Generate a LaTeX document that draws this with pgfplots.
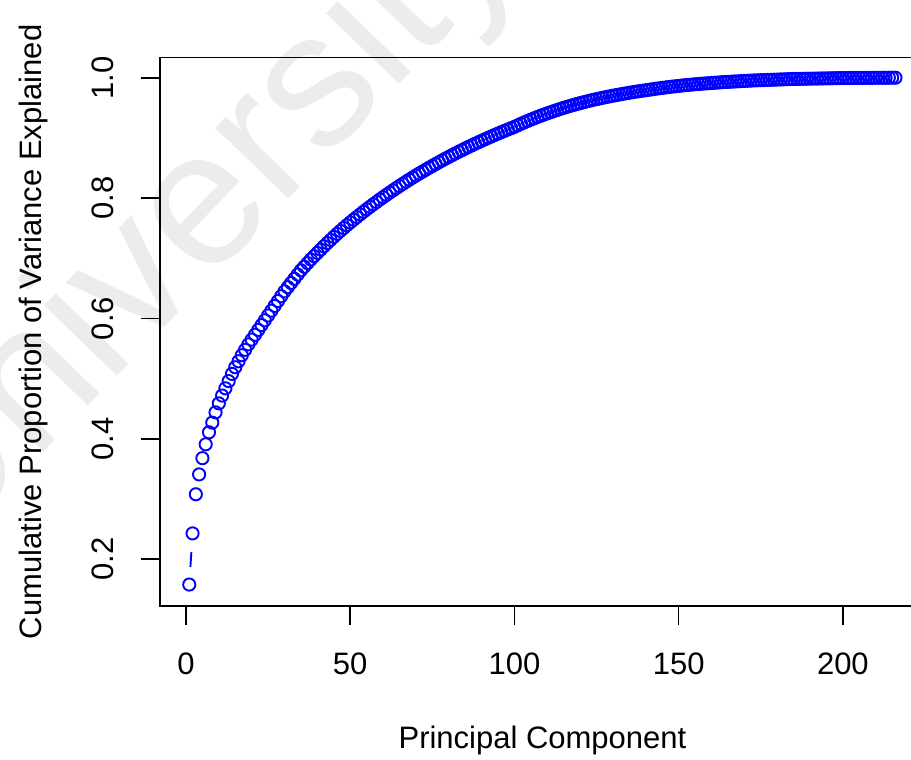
\documentclass[border=0pt]{standalone}
\usepackage{pgfplots}
\pgfplotsset{compat=1.18}
\usepackage{pgfplotstable}
\usepackage{fontspec}
\setmainfont{Liberation Sans}
\definecolor{rblue}{RGB}{0,0,255}
\definecolor{wm}{RGB}{236,236,236}
\pgfplotstableread{
x y
1 0.158
2 0.243
3 0.308
4 0.341
5 0.368
6 0.391
7 0.411
8 0.427
9 0.444
10 0.459
11 0.472
12 0.484
13 0.496
14 0.508
15 0.519
16 0.529
17 0.539
18 0.548
19 0.557
20 0.565
21 0.573
22 0.581
23 0.589
24 0.597
25 0.605
26 0.613
27 0.621
28 0.629
29 0.637
30 0.645
31 0.652
32 0.659
33 0.666
34 0.673
35 0.680
36 0.686
37 0.692
38 0.698
39 0.7035
40 0.709
41 0.7145
42 0.720
43 0.7253
44 0.7305
45 0.7356
46 0.7406
47 0.7455
48 0.7503
49 0.7550
50 0.7596
51 0.7641
52 0.7685
53 0.7729
54 0.7772
55 0.7814
56 0.7855
57 0.7896
58 0.7936
59 0.7976
60 0.8015
61 0.8053
62 0.8091
63 0.8128
64 0.8165
65 0.8201
66 0.8237
67 0.8272
68 0.8307
69 0.8341
70 0.8375
71 0.8408
72 0.8440
73 0.8472
74 0.8504
75 0.8535
76 0.8566
77 0.8596
78 0.8626
79 0.8655
80 0.8684
81 0.8713
82 0.8741
83 0.8769
84 0.8796
85 0.8823
86 0.8850
87 0.8876
88 0.8902
89 0.8927
90 0.8952
91 0.8977
92 0.9001
93 0.9025
94 0.9049
95 0.9072
96 0.9095
97 0.9118
98 0.9140
99 0.9162
100 0.9184
101 0.9209
102 0.9234
103 0.9258
104 0.9281
105 0.9304
106 0.9326
107 0.9347
108 0.9368
109 0.9388
110 0.9408
111 0.9427
112 0.9446
113 0.9464
114 0.9482
115 0.9499
116 0.9516
117 0.9532
118 0.9548
119 0.9563
120 0.9578
121 0.9592
122 0.9606
123 0.9619
124 0.9632
125 0.9644
126 0.9656
127 0.9668
128 0.9679
129 0.9690
130 0.9701
131 0.9711
132 0.9721
133 0.9731
134 0.9741
135 0.9750
136 0.9759
137 0.9768
138 0.9776
139 0.9784
140 0.9792
141 0.9800
142 0.9808
143 0.9816
144 0.9824
145 0.9831
146 0.9838
147 0.9845
148 0.9852
149 0.9858
150 0.9864
151 0.9870
152 0.9876
153 0.9881
154 0.9886
155 0.9891
156 0.9896
157 0.9900
158 0.9904
159 0.9908
160 0.9912
161 0.9916
162 0.9920
163 0.9924
164 0.9928
165 0.9931
166 0.9934
167 0.9937
168 0.9940
169 0.9943
170 0.9946
171 0.9949
172 0.9952
173 0.9955
174 0.9957
175 0.9959
176 0.9961
177 0.9963
178 0.9965
179 0.9967
180 0.9969
181 0.9971
182 0.9973
183 0.9975
184 0.9977
185 0.9979
186 0.9980
187 0.9981
188 0.9982
189 0.9983
190 0.9984
191 0.9985
192 0.9986
193 0.9987
194 0.9988
195 0.9989
196 0.9990
197 0.9991
198 0.9992
199 0.9993
200 0.9994
201 0.9995
202 0.9995
203 0.9996
204 0.9996
205 0.9997
206 0.9997
207 0.9998
208 0.9998
209 0.9998
210 0.9999
211 0.9999
212 0.9999
213 0.9999
214 1.0000
215 1.0000
216 1.0000
}\pcadata
\begin{document}
\begin{tikzpicture}[x=0.5pt,y=0.5pt]
\path[use as bounding box] (0,0) rectangle (911,760);
\clip (0,0) rectangle (911,760);
\node[rotate=46, anchor=base west, inner sep=0, text=wm, font=\fontsize{96}{96}\selectfont] at (-62,198) {University of};
\begin{axis}[
  at={(80pt,77pt)}, anchor=south west,
  scale only axis, width=382.5pt, height=274.25pt,
  xmin=-7.91, xmax=225.0, ymin=0.1224, ymax=1.0336,
  axis line style={line width=0.8pt},
  tick style={black, line width=0.8pt},
  tick align=outside, major tick length=9.5pt,
  xtick={0,50,100,150,200}, ytick={0.2,0.4,0.6,0.8,1.0},
  xtick pos=bottom, ytick pos=left,
  font=\fontsize{15.5}{18}\selectfont,
  /pgf/number format/assume math mode=true,
  yticklabel style={/pgf/number format/fixed, /pgf/number format/fixed zerofill, /pgf/number format/precision=1, xshift=-13.5pt, rotate=90, anchor=south, inner sep=0pt},
  xticklabel style={anchor=north, inner sep=0pt, yshift=-13.5pt},
  xlabel={Principal Component}, ylabel={Cumulative Proportion of Variance Explained},
  every axis x label/.style={at={(axis description cs:0.5,-0.2589)}, anchor=base, inner sep=0pt},
  every axis y label/.style={at={(axis description cs:-0.1458,0.5)}, rotate=90, anchor=south, inner sep=0pt},
  clip=false,
]
\addplot[rblue, line width=0.95pt, dash pattern=on 0pt off 8.8pt on 7.5pt off 40pt, forget plot] coordinates {(1,0.158) (2,0.243)};
\addplot[only marks, mark=o, mark size=3.05pt, mark options={rblue, line width=0.95pt}] table[x=x,y=y] {\pcadata};
\end{axis}
\end{tikzpicture}
\end{document}
